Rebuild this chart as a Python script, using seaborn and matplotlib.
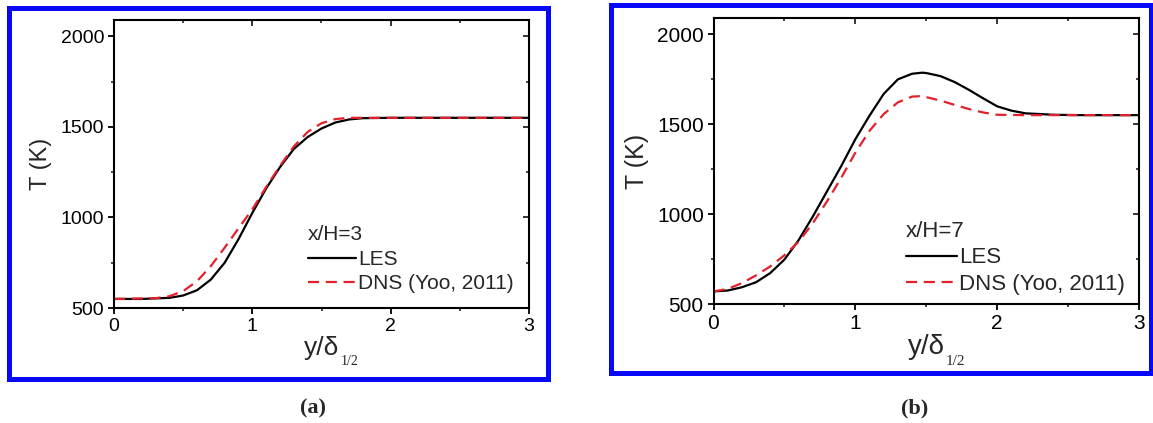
import numpy as np
import pandas as pd
import matplotlib
matplotlib.use("Agg")
import matplotlib.pyplot as plt
from matplotlib.patches import Rectangle
from matplotlib.ticker import MultipleLocator
import seaborn as sns

# ---------------- data ----------------
# Panel (a): x/H = 3
xa_les = [0.0, 0.2, 0.4, 0.5, 0.6, 0.7, 0.8, 0.9, 1.0, 1.1, 1.2, 1.3, 1.4, 1.5, 1.6, 1.7, 1.8, 2.0, 2.5, 3.0]
Ta_les = [550, 550, 556, 569, 598, 657, 750, 880, 1025, 1160, 1278, 1378, 1444, 1491, 1524, 1541, 1548, 1550, 1550, 1550]
xa_dns = [0.0, 0.3, 0.4, 0.5, 0.6, 0.7, 0.8, 0.9, 1.0, 1.1, 1.2, 1.3, 1.4, 1.5, 1.6, 1.7, 1.8, 2.0, 2.5, 3.0]
Ta_dns = [550, 554, 565, 593, 648, 731, 833, 940, 1045, 1168, 1285, 1392, 1472, 1520, 1543, 1550, 1550, 1550, 1550, 1550]

# Panel (b): x/H = 7
xb_les = [0.0, 0.1, 0.2, 0.3, 0.4, 0.5, 0.6, 0.7, 0.8, 0.9, 1.0, 1.1, 1.2, 1.3, 1.4, 1.47,
          1.5, 1.6, 1.7, 1.8, 1.9, 2.0, 2.1, 2.2, 2.4, 2.6, 3.0]
Tb_les = [570, 575, 593, 621, 672, 747, 855, 986, 1126, 1266, 1416, 1547, 1668, 1749, 1780, 1786,
          1784, 1767, 1734, 1691, 1644, 1599, 1575, 1560, 1552, 1550, 1550]
xb_dns = [0.0, 0.1, 0.2, 0.3, 0.4, 0.5, 0.6, 0.7, 0.8, 0.9, 1.0, 1.1, 1.2, 1.3, 1.4, 1.45,
          1.5, 1.6, 1.7, 1.8, 1.9, 2.0, 2.2, 2.5, 3.0]
Tb_dns = [570, 584, 616, 659, 709, 771, 846, 949, 1070, 1201, 1341, 1463, 1556, 1621, 1653, 1655,
          1650, 1631, 1607, 1584, 1565, 1552, 1550, 1550, 1550]

label_les = "LES"
label_dns = "DNS (Yoo, 2011)"
titles = ["x/H=3", "x/H=7"]
panel_tags = ["(a)", "(b)"]
xticks = [0, 1, 2, 3]
yticks = [500, 1000, 1500, 2000]

# ---------------- style ----------------
sns.set_theme(style="ticks")
plt.rcParams["font.family"] = ["Liberation Sans", "DejaVu Sans"]

W, H = 1153, 423
fig = plt.figure(figsize=(W / 100, H / 100), dpi=100)
fig.patch.set_facecolor("white")

def fx(px):
    return px / W

def fy(py):
    return 1 - py / H

# axes rectangles in pixel units: left, top, right, bottom
boxes = [(114, 20, 529, 308), (713.5, 18, 1139, 304)]
frames = [(9, 8, 548, 379), (611, 5, 1151, 373)]
legend_anchor = [(0.468, 0.052), (0.452, 0.032)]
fsz = [14, 15]
blue = "#0808f8"
red = "#e3212b"

datasets = [
    (xa_les, Ta_les, xa_dns, Ta_dns),
    (xb_les, Tb_les, xb_dns, Tb_dns),
]

for i in range(2):
    l, t, r, b = boxes[i]
    ax = fig.add_axes([fx(l), fy(b), fx(r - l), (b - t) / H])
    x1, y1, x2, y2 = datasets[i]
    df1 = pd.DataFrame({"x": x1, "T": y1})
    df2 = pd.DataFrame({"x": x2, "T": y2})
    sns.lineplot(data=df1, x="x", y="T", ax=ax, color="black", lw=1.6, label=label_les,
                 estimator=None, sort=False)
    sns.lineplot(data=df2, x="x", y="T", ax=ax, color=red, lw=1.6, label=label_dns,
                 estimator=None, sort=False, dashes=False)
    ax.lines[1].set_dashes([5, 3])

    ax.set_xlim(0, 3)
    ax.set_ylim(500, 2090)
    ax.set_xticks(xticks)
    ax.set_yticks(yticks)
    ax.xaxis.set_minor_locator(MultipleLocator(0.5))
    ax.yaxis.set_minor_locator(MultipleLocator(250))
    ax.tick_params(which="major", direction="out", length=4, width=1.3,
                   labelsize=fsz[i], pad=3, colors="black")
    ax.tick_params(which="minor", direction="out", length=2.5, width=1.2)
    for sp in ax.spines.values():
        sp.set_visible(True)
        sp.set_linewidth(1.5)
        sp.set_color("black")

    # mirrored ticks (inward) on top and right
    secx = ax.secondary_xaxis("top")
    secx.set_xticks(xticks)
    secx.xaxis.set_minor_locator(MultipleLocator(0.5))
    secx.tick_params(which="major", direction="in", length=4, width=1.3, labeltop=False)
    secx.tick_params(which="minor", direction="in", length=2.5, width=1.2)
    secy = ax.secondary_yaxis("right")
    secy.set_yticks(yticks)
    secy.yaxis.set_minor_locator(MultipleLocator(250))
    secy.tick_params(which="major", direction="in", length=4, width=1.3, labelright=False)
    secy.tick_params(which="minor", direction="in", length=2.5, width=1.2)

    ax.set_ylabel("T (K)", fontsize=fsz[i] + 3, labelpad=6)
    ax.set_xlabel("y/δ", fontsize=fsz[i] + 5, labelpad=1)
    ax.annotate("1/2", xy=(1.0, 0.0), xycoords=ax.xaxis.label, xytext=(1, -1),
                textcoords="offset points", fontsize=fsz[i] - 4,
                family=["Liberation Serif", "DejaVu Serif"], ha="left", va="center")

    leg = ax.legend(title=titles[i], loc="lower left", bbox_to_anchor=legend_anchor[i],
                    frameon=False, fontsize=fsz[i] + 1, title_fontsize=fsz[i] + 1,
                    handlelength=2.3, handletextpad=0.1, labelspacing=0.25,
                    borderpad=0, borderaxespad=0)
    leg._legend_box.align = "left"
    leg._legend_box.sep = 4

    # blue panel frame
    fl, ft, fr, fb = frames[i]
    fig.add_artist(Rectangle((fx(fl), fy(fb)), fx(fr - fl), (fb - ft) / H,
                             transform=fig.transFigure, fill=False, edgecolor=blue,
                             linewidth=3.6, zorder=10))

# panel tags
fig.text(fx(313), fy(408), panel_tags[0], ha="center", va="center", fontsize=16,
         fontweight="bold", family=["Liberation Serif", "DejaVu Serif"])
fig.text(fx(915), fy(408), panel_tags[1], ha="center", va="center", fontsize=16,
         fontweight="bold", family=["Liberation Serif", "DejaVu Serif"])

fig.savefig("out.png", dpi=100, facecolor="white")
